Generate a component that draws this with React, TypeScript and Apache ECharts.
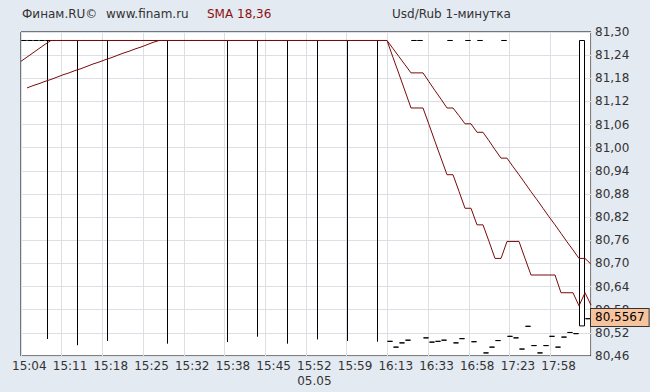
import React, { useEffect, useRef } from 'react';
import * as echarts from 'echarts';

const H = 81.278;

const timeLabels = ['15:04', '15:11', '15:18', '15:25', '15:32', '15:38', '15:45', '15:52\n05.05', '15:59', '16:13', '16:33', '16:58', '17:23', '17:58'];

const closes = [
  H, H, H, H, H, H, H, H, H, H,
  H, H, H, H, H, H, H, H, H, H,
  H, H, H, H, H, H, H, H, H, H,
  H, H, H, H, H, H, H, H, H, H,
  H, H, H, H, H, H, H, H, H, H,
  H, H, H, H, H, H, H, H, H, H,
  H, 80.498, 80.483, 80.494, 80.501, H, H, 80.507, 80.496, 80.498,
  80.501, H, 80.494, 80.505, H, 80.497, H, 80.468, 80.483, 80.5,
  H, 80.511, 80.507, 80.478, 80.537, 80.487, 80.468, 80.487, 80.511, 80.483,
  80.509, 80.521, 80.518, H, 80.5567,
];

const opens = [
  H, H, H, H, H, H, H, H, H, H,
  H, H, H, H, H, H, H, H, H, H,
  H, H, H, H, H, H, H, H, H, H,
  H, H, H, H, H, H, H, H, H, H,
  H, H, H, H, H, H, H, H, H, H,
  H, H, H, H, H, H, H, H, H, H,
  H, 80.498, 80.483, 80.494, 80.501, H, H, 80.507, 80.496, 80.498,
  80.501, H, 80.494, 80.505, H, 80.497, H, 80.468, 80.483, 80.5,
  H, 80.511, 80.507, 80.478, 80.537, 80.487, 80.468, 80.487, 80.511, 80.483,
  80.509, 80.521, 80.518, 80.538, 80.5567,
];

const lows = [
  H, H, H, H, 80.504, H, H, H, H, 80.488,
  H, H, H, H, 80.499, H, H, H, H, H,
  H, H, H, H, 80.492, H, H, H, H, H,
  H, H, H, H, 80.496, H, H, H, H, 80.51,
  H, H, H, H, 80.492, H, H, H, H, 80.503,
  H, H, H, H, 80.499, H, H, H, H, 80.497,
  H, 80.498, 80.483, 80.494, 80.501, H, H, 80.507, 80.496, 80.498,
  80.501, H, 80.494, 80.505, H, 80.497, H, 80.468, 80.483, 80.5,
  H, 80.511, 80.507, 80.478, 80.537, 80.487, 80.468, 80.487, 80.511, 80.483,
  80.509, 80.521, 80.518, 80.538, 80.5567,
];

const sma18 = [
  81.224, 81.235, 81.246, 81.257, 81.268, H, H, H, H, H,
  H, H, H, H, H, H, H, H, H, H,
  H, H, H, H, H, H, H, H, H, H,
  H, H, H, H, H, H, H, H, H, H,
  H, H, H, H, H, H, H, H, H, H,
  H, H, H, H, H, H, H, H, H, H,
  H, H, 81.234, 81.191, 81.147, 81.103, 81.103, 81.103, 81.06, 81.016,
  80.973, 80.93, 80.93, 80.887, 80.843, 80.843, 80.8, 80.8, 80.757, 80.713,
  80.713, 80.757, 80.757, 80.757, 80.713, 80.67, 80.67, 80.67, 80.67, 80.67,
  80.624, 80.624, 80.624, 80.59, 80.624, 80.592,
];

const sma36 = [
  null, 81.155, 81.161, 81.166, 81.172, 81.177, 81.183, 81.189, 81.194, 81.2,
  81.205, 81.211, 81.217, 81.222, 81.228, 81.233, 81.239, 81.245, 81.25, 81.256,
  81.261, 81.267, 81.273, H, H, H, H, H, H, H,
  H, H, H, H, H, H, H, H, H, H,
  H, H, H, H, H, H, H, H, H, H,
  H, H, H, H, H, H, H, H, H, H,
  H, H, 81.257, 81.236, 81.215, 81.194, 81.194, 81.194, 81.171, 81.148,
  81.126, 81.103, 81.103, 81.083, 81.062, 81.062, 81.04, 81.04, 81.018, 80.995,
  80.973, 80.973, 80.951, 80.93, 80.908, 80.886, 80.865, 80.843, 80.821, 80.8,
  80.778, 80.756, 80.735, 80.713, 80.713, 80.698,
];

const LAST_PRICE = 80.5567;
const Y_MIN = 80.46;
const Y_MAX = 81.3;
const Y_STEP = 0.06;

const FONT = 'DejaVu Sans';
const TEXT = '#333333';
const MA_COLOR = '#7a0a0a';

export default function App() {
  const ref = useRef<HTMLDivElement>(null);

  useEffect(() => {
    document.body.style.margin = '0';
    if (!ref.current) return;
    const chart = echarts.init(ref.current, null, { renderer: 'svg' });

    const candleCats = closes.map((_, i) => String(i));
    const maCats = sma18.map((_, i) => String(i));
    const candleData = closes.map((c, i) => [opens[i], c, lows[i], Math.max(opens[i], c)]);
    const fmt = (v: number, d: number) => v.toFixed(d).replace('.', ',');

    chart.setOption({
      animation: false,
      backgroundColor: '#ffffff',
      textStyle: { fontFamily: FONT },
      graphic: [
        { type: 'rect', left: 0, top: 0, shape: { width: 650, height: 392 }, style: { fill: '#e4eaf2' }, z: -10, silent: true },
      ],
      title: [
        { text: 'Финам.RU©', left: 22, top: 8, padding: 0, textStyle: { fontSize: 12, fontWeight: 'normal', color: TEXT, fontFamily: FONT } },
        { text: 'www.finam.ru', left: 106, top: 8, padding: 0, textStyle: { fontSize: 12, fontWeight: 'normal', color: TEXT, fontFamily: FONT } },
        { text: 'SMA 18,36', left: 207, top: 8, padding: 0, textStyle: { fontSize: 12, fontWeight: 'normal', color: '#8b1010', fontFamily: FONT } },
        { text: 'Usd/Rub 1-минутка', left: 392, top: 8, padding: 0, textStyle: { fontSize: 12, fontWeight: 'normal', color: TEXT, fontFamily: FONT } },
      ],
      grid: {
        left: 21, right: 71, top: 32, bottom: 36,
        show: true, backgroundColor: '#ffffff', borderColor: '#000000', borderWidth: 1,
      },
      xAxis: [
        {
          type: 'category', data: candleCats, boundaryGap: true,
          axisLine: { show: false }, axisTick: { show: false }, axisLabel: { show: false }, splitLine: { show: false },
        },
        {
          type: 'category', data: maCats, boundaryGap: false,
          axisLine: { show: false }, axisTick: { show: false }, axisLabel: { show: false }, splitLine: { show: false },
        },
        {
          type: 'category', data: timeLabels, boundaryGap: true, position: 'bottom',
          axisLine: { show: false }, axisTick: { show: false },
          axisLabel: { interval: 0, color: TEXT, fontSize: 12, fontFamily: FONT, margin: 2, lineHeight: 15, padding: [0, 24, 0, 0] },
          splitLine: { show: true, interval: 0, lineStyle: { color: '#dcdfe3', width: 1 } },
        },
      ],
      yAxis: {
        type: 'value', position: 'right', min: Y_MIN, max: Y_MAX, interval: Y_STEP,
        axisLine: { show: false }, axisTick: { show: false },
        axisLabel: { margin: 4, color: TEXT, fontSize: 12, fontFamily: FONT, formatter: (v: number) => fmt(v, 2) },
        splitLine: { show: true, lineStyle: { color: '#dcdfe3', width: 1 } },
      },
      series: [
        {
          type: 'candlestick', xAxisIndex: 0, data: candleData, barWidth: 5, barMinWidth: 5,
          itemStyle: { color: '#ffffff', color0: '#000000', borderColor: '#000000', borderColor0: '#000000', borderColorDoji: '#000000', borderWidth: 1 },
          markLine: {
            silent: true, symbol: ['none', 'none'],
            lineStyle: { color: 'transparent', width: 0 },
            label: {
              show: true, position: 'end', distance: 0, formatter: () => fmt(LAST_PRICE, 4),
              color: '#000', fontSize: 12, fontFamily: FONT,
              backgroundColor: '#f7c39c', borderColor: '#333', borderWidth: 1, padding: [3, 4, 2, 4],
            },
            data: [{ yAxis: LAST_PRICE }],
          },
          z: 2,
        },
        {
          type: 'line', xAxisIndex: 1, data: sma18, showSymbol: false, connectNulls: false,
          lineStyle: { color: MA_COLOR, width: 1 }, z: 3,
        },
        {
          type: 'line', xAxisIndex: 1, data: sma36, showSymbol: false, connectNulls: false,
          lineStyle: { color: MA_COLOR, width: 1 }, z: 3,
        },
      ],
    });

    return () => chart.dispose();
  }, []);

  return <div ref={ref} style={{ width: 662, height: 392, position: 'absolute', left: 0, top: 0 }} />;
}
